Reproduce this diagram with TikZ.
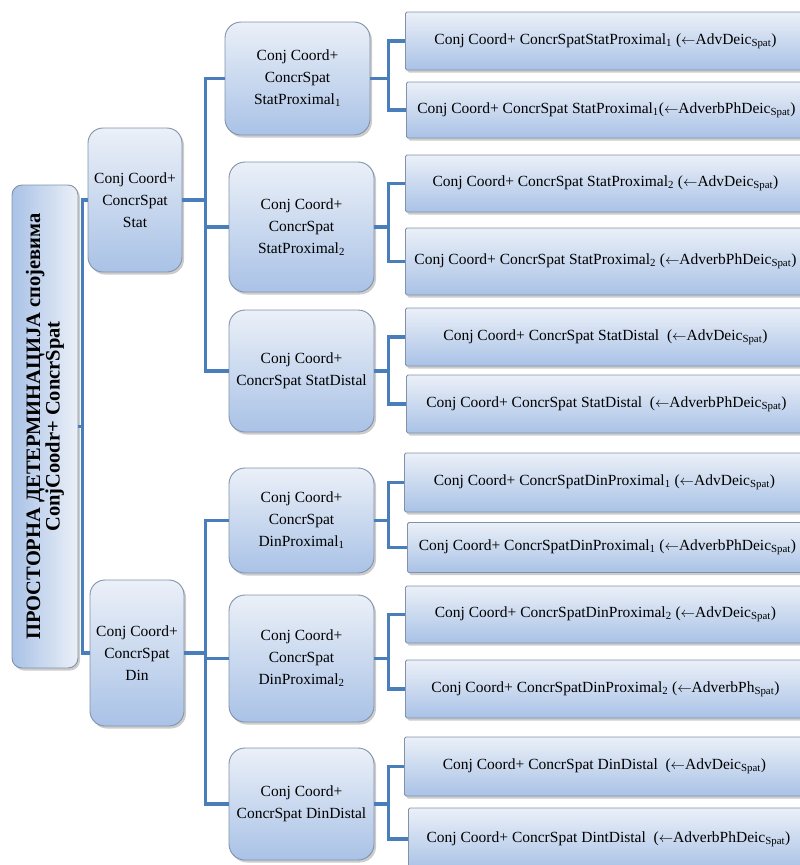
\documentclass[tikz,border=0pt]{standalone}
\usepackage{fontspec}
\setmainfont{Liberation Serif}
\usetikzlibrary{shadows}
\definecolor{boxtop}{HTML}{EBF0F8}
\definecolor{boxbottom}{HTML}{A9C2E6}
\definecolor{boxrule}{HTML}{8192AA}
\definecolor{linkblue}{HTML}{4A7EBB}
\newcommand{\boxfont}{\fontsize{15.5}{22}\selectfont}
\newcommand{\rootfont}{\fontsize{20.5}{18}\selectfont\bfseries}
\newcommand{\la}{\ensuremath{\leftarrow}}

\tikzset{
  anybox/.style={draw=boxrule, line width=0.9pt, top color=boxtop, bottom color=boxbottom,
    drop shadow={shadow xshift=2pt, shadow yshift=-2.5pt, opacity=0.4}, inner sep=2pt,
    font=\boxfont},
  rootbox/.style={anybox, rotate=90, left color=boxbottom, right color=boxtop,
    rounded corners=10pt, minimum width=483pt, minimum height=66pt, align=center,
    font=\rootfont},
  groupbox/.style={anybox, rounded corners=15pt, minimum width=94pt, align=center},
  subbox/.style={anybox, rounded corners=16pt, minimum width=145pt, align=center},
  leafbox/.style={anybox, rounded corners=1.5pt, anchor=west, minimum width=400pt},
  link/.style={draw=linkblue, line width=3.3pt}
}

\begin{document}
\begin{tikzpicture}[x=1pt, y=-1pt]
\useasboundingbox (0,0) rectangle (800,865);

% root
\node[rootbox] (root) at (45,426.5) {ПРОСТОРНА ДЕТЕРМИНАЦИЈА спојевима\\ConjCoodr+ ConcrSpat};

% first level
\node[groupbox, minimum height=144pt] (stat) at (135,200) {Conj Coord+\\ConcrSpat\\Stat};
\node[groupbox, minimum height=146pt] (din) at (137,653) {Conj Coord+\\ConcrSpat\\Din};

% second level
\node[subbox, minimum height=113pt] (sp1) at (297.5,78.5) {Conj Coord+\\ConcrSpat\\StatProximal\textsubscript{1}};
\node[subbox, minimum height=130pt] (sp2) at (301.5,227) {Conj Coord+\\ConcrSpat\\StatProximal\textsubscript{2}};
\node[subbox, minimum height=122pt] (sd) at (301.5,371) {Conj Coord+\\ConcrSpat StatDistal};
\node[subbox, minimum height=105pt] (dp1) at (301.5,520.5) {Conj Coord+\\ConcrSpat\\DinProximal\textsubscript{1}};
\node[subbox, minimum height=127pt] (dp2) at (301.5,658.5) {Conj Coord+\\ConcrSpat\\DinProximal\textsubscript{2}};
\node[subbox, minimum height=112pt] (dd) at (301.5,804) {Conj Coord+\\ConcrSpat DinDistal};

% third level
\node[leafbox, minimum height=58pt] (l1a) at (405,41) {Conj Coord+ ConcrSpatStatProximal\textsubscript{1} (\la AdvDeic\textsubscript{Spat})};
\node[leafbox, minimum height=56pt] (l1b) at (406,110) {Conj Coord+ ConcrSpat StatProximal\textsubscript{1}(\la AdverbPhDeic\textsubscript{Spat})};
\node[leafbox, minimum height=57pt] (l2a) at (405,183.5) {Conj Coord+ ConcrSpat StatProximal\textsubscript{2} (\la AdvDeic\textsubscript{Spat})};
\node[leafbox, minimum height=67pt] (l2b) at (405,261.5) {Conj Coord+ ConcrSpat StatProximal\textsubscript{2} (\la AdverbPhDeic\textsubscript{Spat})};
\node[leafbox, minimum height=58pt] (l3a) at (405,337) {Conj Coord+ ConcrSpat StatDistal\enspace(\la AdvDeic\textsubscript{Spat})};
\node[leafbox, minimum height=58pt] (l3b) at (406,404) {Conj Coord+ ConcrSpat StatDistal\enspace(\la AdverbPhDeic\textsubscript{Spat})};
\node[leafbox, minimum height=59pt] (l4a) at (404,482.5) {Conj Coord+ ConcrSpatDinProximal\textsubscript{1} (\la AdvDeic\textsubscript{Spat})};
\node[leafbox, minimum height=50pt] (l4b) at (407,547.5) {Conj Coord+ ConcrSpatDinProximal\textsubscript{1} (\la AdverbPhDeic\textsubscript{Spat})};
\node[leafbox, minimum height=57pt] (l5a) at (405,614.5) {Conj Coord+ ConcrSpatDinProximal\textsubscript{2} (\la AdvDeic\textsubscript{Spat})};
\node[leafbox, minimum height=58pt] (l5b) at (405,689) {Conj Coord+ ConcrSpatDinProximal\textsubscript{2} (\la AdverbPh\textsubscript{Spat})};
\node[leafbox, minimum height=59pt] (l6a) at (404,766.5) {Conj Coord+ ConcrSpat DinDistal\enspace(\la AdvDeic\textsubscript{Spat})};
\node[leafbox, minimum height=62pt] (l6b) at (408,839) {Conj Coord+ ConcrSpat DintDistal\enspace(\la AdverbPhDeic\textsubscript{Spat})};

% connectors
\draw[link] (root.south) -- ++(4,0) |- (stat.west);
\draw[link] (root.south) -- ++(4,0) |- (din.west);
\draw[link] (stat.east) -- ++(23,0) |- (sp1.west);
\draw[link] (stat.east) -- ++(23,0) |- (sp2.west);
\draw[link] (stat.east) -- ++(23,0) |- (sd.west);
\draw[link] (din.east) -- ++(21,0) |- (dp1.west);
\draw[link] (din.east) -- ++(21,0) |- (dp2.west);
\draw[link] (din.east) -- ++(21,0) |- (dd.west);
\draw[link] (sp1.east) -- ++(18,0) |- (l1a.west);
\draw[link] (sp1.east) -- ++(18,0) |- (l1b.west);
\draw[link] (sp2.east) -- ++(14,0) |- (l2a.west);
\draw[link] (sp2.east) -- ++(14,0) |- (l2b.west);
\draw[link] (sd.east) -- ++(14,0) |- (l3a.west);
\draw[link] (sd.east) -- ++(14,0) |- (l3b.west);
\draw[link] (dp1.east) -- ++(14,0) |- (l4a.west);
\draw[link] (dp1.east) -- ++(14,0) |- (l4b.west);
\draw[link] (dp2.east) -- ++(14,0) |- (l5a.west);
\draw[link] (dp2.east) -- ++(14,0) |- (l5b.west);
\draw[link] (dd.east) -- ++(14,0) |- (l6a.west);
\draw[link] (dd.east) -- ++(14,0) |- (l6b.west);
\end{tikzpicture}
\end{document}
